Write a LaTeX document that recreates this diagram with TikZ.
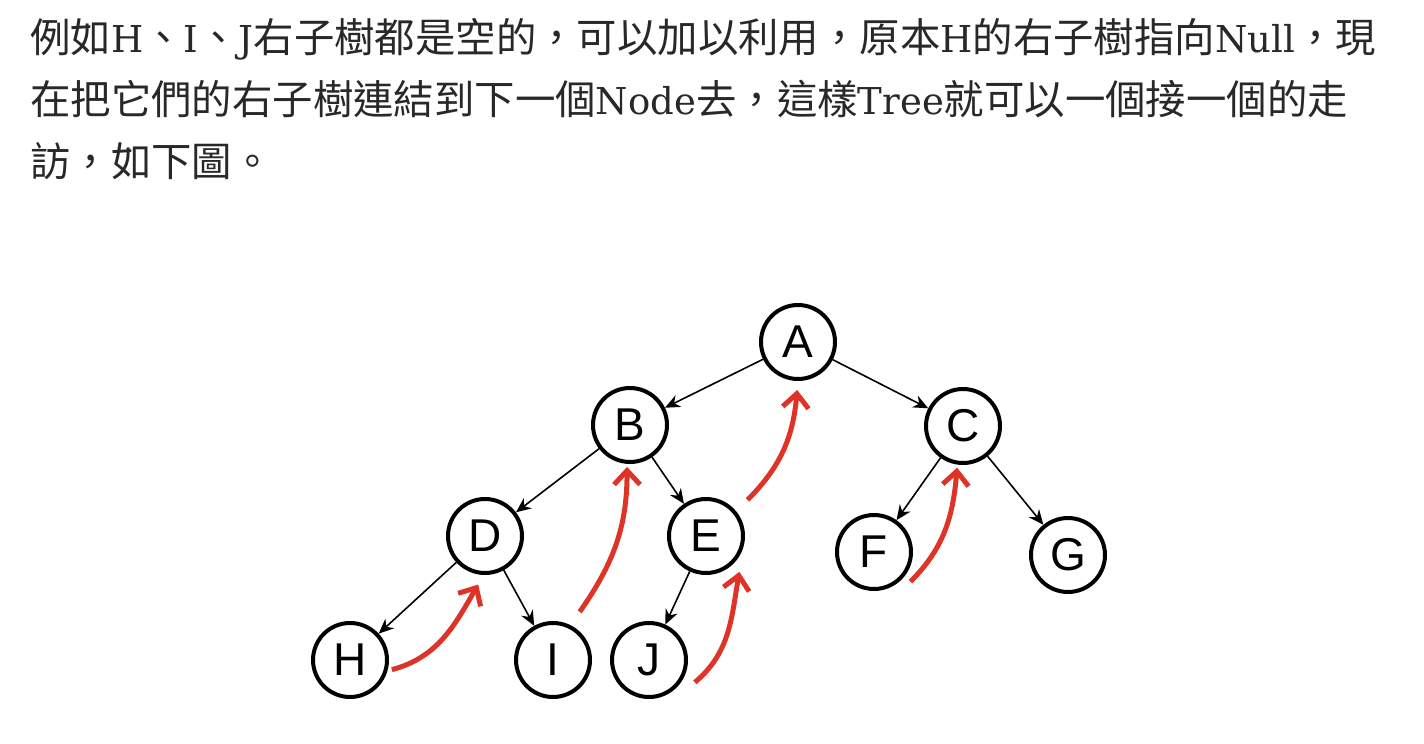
\documentclass[tikz,border=0pt]{standalone}
\usepackage{fontspec}
\setmainfont{DejaVu Serif}
\setsansfont{Liberation Sans}
\newfontfamily\cjk{Noto Sans CJK TC}
\usepackage{tikz}
\usetikzlibrary{arrows.meta, positioning}
\usepackage{xcolor}
\definecolor{linkred}{RGB}{222,52,40}
\definecolor{inkgray}{RGB}{40,40,40}
\newcommand{\zh}[1]{{\cjk\fontsize{20.2pt}{20.2pt}\selectfont #1}}

\begin{document}
\begin{tikzpicture}[
    x=0.5pt, y=-0.5pt,
    on grid,
    vertex/.style={circle, draw, line width=2pt, minimum size=37pt, inner sep=0pt, font=\sffamily\fontsize{23}{23}\selectfont},
    edge/.style={draw, -{Stealth[length=7.5pt,width=6.5pt]}, line width=0.8pt},
    thread/.style={draw=linkred, -{Straight Barb[length=7pt,width=13pt]}, line width=2.5pt},
    para/.style={anchor=base west, inner sep=0pt, font=\fontsize{18.5}{18.5}\selectfont, text=inkgray}
]
    \useasboundingbox (0,0) rectangle (1424,744);

    % Text
    \node (line1) [para] at (30,52) {\zh{例如}H\zh{、}I\zh{、}J\zh{右子樹都是空的，可以加以利用，原本}H\zh{的右子樹指向}Null\zh{，現}};
    \node (line2) [para] at (30,114) {\zh{在把它們的右子樹連結到下一個}Node\zh{去，這樣}Tree\zh{就可以一個接一個的走}};
    \node (line3) [para] at (30,176) {\zh{訪，如下圖。}};

    % Nodes
    \node (A) [vertex] at (798,342) {A};
    \node (B) [vertex, below left=41.5pt and 84pt of A] {B};
    \node (C) [vertex, below right=42pt and 82.5pt of A] {C};
    \node (D) [vertex, below left=55.5pt and 72.5pt of B] {D};
    \node (E) [vertex, below right=55.5pt and 38pt of B] {E};
    \node (F) [vertex, below left=63pt and 44.5pt of C] {F};
    \node (G) [vertex, below right=64.5pt and 52.5pt of C] {G};
    \node (H) [vertex, below left=62pt and 67.5pt of D] {H};
    \node (I) [vertex, below right=62pt and 34pt of D] {I};
    \node (J) [vertex, below left=62pt and 28.5pt of E] {J};

    % Paths
    \path [edge] (A) -- (B);
    \path [edge] (A) -- (C);
    \path [edge] (B) -- (D);
    \path [edge] (B) -- (E);
    \path [edge] (C) -- (F);
    \path [edge] (C) -- (G);
    \path [edge] (D) -- (H);
    \path [edge] (D) -- (I);
    \path [edge] (E) -- (J);

    % Threads (empty right links to the in-order successor)
    \path [thread] ([shift={(-13:2pt)}]H.-13) to[out=15, in=-120] ([shift={(-98:5pt)}]D.-98);
    \path [thread] ([shift={(61:8pt)}]I.61) to[out=55, in=-90] ([shift={(-94:1.5pt)}]B.-94);
    \path [thread] ([shift={(-26:6pt)}]J.-26) to[out=40, in=-100] ([shift={(-47:5pt)}]E.-47);
    \path [thread] ([shift={(41:8pt)}]E.41) to[out=45, in=-95] ([shift={(-91:4.5pt)}]A.-91);
    \path [thread] ([shift={(-39:4pt)}]F.-39) to[out=45, in=-95] ([shift={(-98:1.5pt)}]C.-98);
\end{tikzpicture}
\end{document}
